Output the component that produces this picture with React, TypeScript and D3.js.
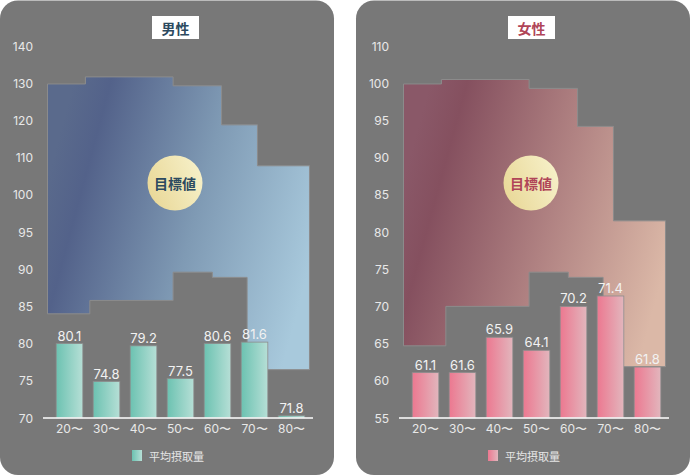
import React from 'react';
import * as d3 from 'd3';

const categories = ['20〜', '30〜', '40〜', '50〜', '60〜', '70〜', '80〜'];

const menLabels = [80.1, 74.8, 79.2, 77.5, 80.6, 81.6, 71.8];
const menBarHeights = [80.0, 74.9, 79.7, 75.3, 80.0, 80.2, 70.3];
const womenLabels = [61.1, 61.6, 65.9, 64.1, 70.2, 71.4, 61.8];
const womenBarHeights = [61.1, 61.1, 65.85, 64.1, 70.0, 71.4, 61.85];

const menTicks = [70, 75, 80, 85, 90, 95, 100, 110, 120, 130, 140];
const womenTicks = [55, 60, 65, 70, 75, 80, 85, 90, 95, 100, 110];

// target range (目標値) step breaks, in age units
const upperBreakAges = [19.05, 29.3, 53.0, 66.1, 75.8, 89.86];
const lowerBreakAges = [19.05, 30.5, 53.0, 63.6, 73.0, 89.86];
const menTargetUpper = [129.8, 131.7, 129.3, 118.8, 107.8];
const menTargetLower = [84.0, 85.8, 89.6, 88.9, 76.5];
const womenTargetUpper = [99.9, 101.0, 99.3, 94.2, 81.5];
const womenTargetLower = [64.7, 70.0, 74.6, 73.9, 61.9];

const PANEL_W = 334;
const FONT = '"Noto Sans CJK JP", "Noto Sans", sans-serif';
const NUM_FONT = 'Inter, "Noto Sans", sans-serif';

type PanelProps = {
  id: string;
  ox: number;
  title: string;
  titleColor: string;
  labels: number[];
  heights: number[];
  ticks: number[];
  yDomain: number[];
  yRange: number[];
  upper: number[];
  lower: number[];
  areaStops: [number, string][];
  barStops: [number, string][];
};

function Panel(p: PanelProps) {
  const y = d3.scaleLinear().domain(p.yDomain).range(p.yRange);
  const x = d3.scaleBand<string>().domain(categories).range([51, 310]).paddingInner(0.28).paddingOuter(0.14);
  const ageX = d3.scaleLinear().domain([20, 90]).range([51, 310]);

  const path = d3.path();
  path.moveTo(ageX(upperBreakAges[0]), y(p.upper[0]));
  p.upper.forEach((v, i) => {
    if (i > 0) path.lineTo(ageX(upperBreakAges[i]), y(v));
    path.lineTo(ageX(upperBreakAges[i + 1]), y(v));
  });
  const n = p.lower.length;
  path.lineTo(ageX(lowerBreakAges[n]), y(p.lower[n - 1]));
  for (let i = n - 1; i >= 0; i--) {
    if (i < n - 1) path.lineTo(ageX(lowerBreakAges[i + 1]), y(p.lower[i]));
    path.lineTo(ageX(lowerBreakAges[i]), y(p.lower[i]));
  }
  path.closePath();

  const base = y(p.yDomain[0]);

  return (
    <g transform={`translate(${p.ox},0)`}>
      <defs>
        <linearGradient id={`${p.id}-area`} x1="0" y1="0.35" x2="1" y2="0.65">
          {p.areaStops.map(([o, c]) => (
            <stop key={o} offset={o} stopColor={c} />
          ))}
        </linearGradient>
        <linearGradient id={`${p.id}-bar`} x1="0" y1="0" x2="1" y2="0">
          {p.barStops.map(([o, c]) => (
            <stop key={o} offset={o} stopColor={c} />
          ))}
        </linearGradient>
        <linearGradient id={`${p.id}-circle`} x1="0" y1="0.7" x2="1" y2="0.3">
          <stop offset="0" stopColor="#e9d898" />
          <stop offset="1" stopColor="#f6f0c8" />
        </linearGradient>
      </defs>
      <rect x={0} y={0.5} width={PANEL_W} height={474.5} rx={18} fill="#787878" />

      <path d={path.toString()} fill={`url(#${p.id}-area)`} stroke="#8c8c8c" strokeWidth={1} />

      {p.ticks.map((t) => (
        <text
          key={t}
          x={33}
          y={y(t)}
          textAnchor="end"
          dominantBaseline="central"
          fontFamily={NUM_FONT}
          fontSize={12}
          fill="#e8e8e8"
        >
          {t}
        </text>
      ))}

      {categories.map((c, i) => (
        <rect
          key={c}
          x={x(c)}
          y={y(p.heights[i])}
          width={x.bandwidth()}
          height={base - y(p.heights[i])}
          fill={`url(#${p.id}-bar)`}
          stroke="#8d8d8d"
          strokeWidth={0.8}
        />
      ))}
      {categories.map((c, i) => (
        <text
          key={c}
          x={(x(c) as number) + x.bandwidth() / 2}
          y={y(p.heights[i]) - 3}
          textAnchor="middle"
          fontFamily={NUM_FONT}
          fontSize={13}
          fill="#f2f2f2"
        >
          {p.labels[i].toFixed(1)}
        </text>
      ))}

      <line x1={43} x2={313} y1={base} y2={base} stroke="#ffffff" strokeWidth={1.5} />
      {categories.map((c) => (
        <text
          key={c}
          x={(x(c) as number) + x.bandwidth() / 2}
          y={428.5}
          textAnchor="middle"
          dominantBaseline="central"
          fontFamily={NUM_FONT}
          fontSize={12}
          fill="#e8e8e8"
        >
          {c}
        </text>
      ))}

      <circle cx={175} cy={183} r={27.5} fill={`url(#${p.id}-circle)`} />
      <text
        x={175}
        y={183}
        textAnchor="middle"
        dominantBaseline="central"
        fontFamily={FONT}
        fontWeight="bold"
        fontSize={14}
        fill={p.titleColor}
      >
        目標値
      </text>

      <rect x={152} y={16} width={47} height={23} fill="#ffffff" />
      <text
        x={175.5}
        y={27.8}
        textAnchor="middle"
        dominantBaseline="central"
        fontFamily={FONT}
        fontWeight="bold"
        fontSize={14}
        fill={p.titleColor}
      >
        {p.title}
      </text>

      <rect x={132} y={450} width={10} height={11} fill={`url(#${p.id}-bar)`} />
      <text
        x={149}
        y={456}
        dominantBaseline="central"
        fontFamily={FONT}
        fontSize={11}
        fill="#e6e6e6"
      >
        平均摂取量
      </text>
    </g>
  );
}

export default function App() {
  return (
    <svg
      width={690}
      height={476}
      style={{ position: 'absolute', left: 0, top: 0, background: '#ffffff' }}
    >
      <Panel
        id="men"
        ox={0}
        title="男性"
        titleColor="#2c4a60"
        labels={menLabels}
        heights={menBarHeights}
        ticks={menTicks}
        yDomain={[70, 100, 140]}
        yRange={[418, 194.8, 46]}
        upper={menTargetUpper}
        lower={menTargetLower}
        areaStops={[
          [0, '#5a6a8c'],
          [0.13, '#53628a'],
          [0.55, '#7f9ab4'],
          [1, '#a8c9dc'],
        ]}
        barStops={[
          [0, '#6cc2b1'],
          [1, '#b6dfd6'],
        ]}
      />
      <Panel
        id="women"
        ox={356}
        title="女性"
        titleColor="#b04558"
        labels={womenLabels}
        heights={womenBarHeights}
        ticks={womenTicks}
        yDomain={[55, 100, 110]}
        yRange={[418, 83.2, 46]}
        upper={womenTargetUpper}
        lower={womenTargetLower}
        areaStops={[
          [0, '#8a5868'],
          [0.13, '#85505f'],
          [0.55, '#b08282'],
          [1, '#dbb8a7'],
        ]}
        barStops={[
          [0, '#ec7890'],
          [1, '#e2b6bd'],
        ]}
      />
    </svg>
  );
}
